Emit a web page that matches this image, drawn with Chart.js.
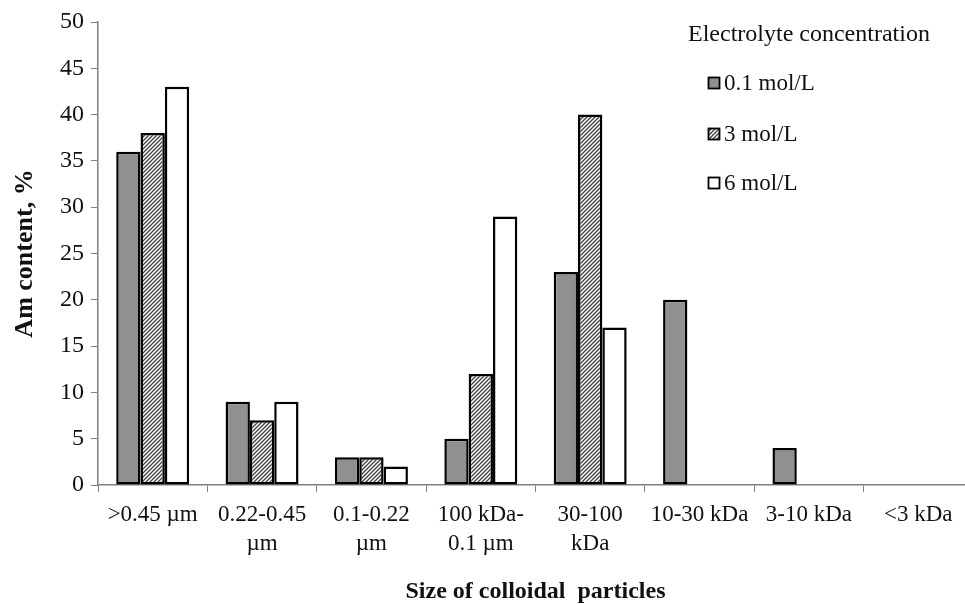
<!DOCTYPE html>
<html>
<head>
<meta charset="utf-8">
<script src="https://cdn.jsdelivr.net/npm/chart.js@4/dist/chart.umd.min.js"></script>
<style>
  html, body { margin: 0; padding: 0; background: #fff; overflow: hidden; }
  #wrap { width: 985px; height: 604px; }
</style>
</head>
<body>
<div id="wrap"><canvas id="c" width="985" height="604"></canvas></div>
<script>
// ---- data ----
const categories = [
  ">0.45 µm",
  ["0.22-0.45", "µm"],
  ["0.1-0.22", "µm"],
  ["100 kDa-", "0.1 µm"],
  ["30-100", "kDa"],
  "10-30 kDa",
  "3-10 kDa",
  "<3 kDa"
];
const seriesNames = ["0.1 mol/L", "3 mol/L", "6 mol/L"];
const conc01 = [36, 9, 3, 5, 23, 20, 4, null];
const conc3  = [38, 7, 3, 12, 40, null, null, null];
const conc6  = [43, 9, 2, 29, 17, null, null, null];
const yTicks = [0, 5, 10, 15, 20, 25, 30, 35, 40, 45, 50];
const legendTitle = "Electrolyte concentration";
const xTitle = "Size of colloidal  particles";
const yTitle = "Am content, %";

// hatch pattern
function makeHatch() {
  const s = 4;
  const pc = document.createElement('canvas');
  pc.width = s; pc.height = s;
  const g = pc.getContext('2d');
  g.fillStyle = '#ffffff';
  g.fillRect(0, 0, s, s);
  g.strokeStyle = '#404040';
  g.lineWidth = 1.3;
  g.beginPath();
  g.moveTo(-1, 1); g.lineTo(1, -1);
  g.moveTo(0, s); g.lineTo(s, 0);
  g.moveTo(s - 1, s + 1); g.lineTo(s + 1, s - 1);
  g.stroke();
  return document.getElementById('c').getContext('2d').createPattern(pc, 'repeat');
}
const hatch = makeHatch();

const SERIF = '"Liberation Serif", "Times New Roman", serif';
const fills = ['#909090', hatch, '#ffffff'];
const seriesData = [conc01, conc3, conc6];

const legendPlugin = {
  id: 'customLegend',
  afterDraw(chart) {
    const ctx = chart.ctx;
    ctx.save();
    ctx.fillStyle = '#111';
    ctx.textBaseline = 'middle';
    ctx.textAlign = 'left';
    ctx.font = '24px ' + SERIF;
    ctx.fillText(legendTitle, 688, 35);
    const ys = [83, 134, 183];
    ctx.font = '23px ' + SERIF;
    chart.data.datasets.forEach((ds, i) => {
      const y = ys[i];
      ctx.fillStyle = ds.backgroundColor;
      ctx.fillRect(708, y - 6, 12, 12);
      ctx.strokeStyle = '#000';
      ctx.lineWidth = 1.8;
      ctx.strokeRect(708.5, y - 5.5, 11, 11);
      ctx.fillStyle = '#111';
      ctx.fillText(ds.label, 724, y + 1);
    });
    ctx.restore();
  }
};

new Chart(document.getElementById('c'), {
  type: 'bar',
  data: {
    labels: categories,
    datasets: seriesNames.map((n, i) => ({
      label: n,
      data: seriesData[i],
      backgroundColor: fills[i],
      borderColor: '#000',
      borderWidth: 2.5,
      borderSkipped: false,
      categoryPercentage: 0.667,
      barPercentage: 1.0
    }))
  },
  options: {
    responsive: false,
    animation: false,
    layout: { padding: { top: 22, right: 12, left: 0, bottom: 0 } },
    plugins: { legend: { display: false }, tooltip: { enabled: false } },
    scales: {
      x: {
        offset: true,
        grid: { display: true, drawOnChartArea: false, drawTicks: true, tickLength: 7, color: '#808080', offset: true },
        border: { color: '#808080', width: 1.5 },
        ticks: {
          color: '#111', font: { family: SERIF, size: 23, lineHeight: 1.25 },
          padding: 9, maxRotation: 0, autoSkip: false
        },
        title: {
          display: true, text: xTitle, color: '#111',
          font: { family: SERIF, size: 24, weight: 'bold', lineHeight: 1 },
          padding: { top: 0, bottom: 0 }
        },
        afterFit(s) { s.height = 119; }
      },
      y: {
        min: 0, max: 50,
        afterBuildTicks(s) { s.ticks = yTicks.map(v => ({ value: v })); },
        grid: { display: true, drawOnChartArea: false, drawTicks: true, tickLength: 7, color: '#808080' },
        border: { color: '#808080', width: 1.5 },
        ticks: { color: '#111', font: { family: SERIF, size: 24 }, padding: 7 },
        title: {
          display: true, text: yTitle, color: '#111',
          font: { family: SERIF, size: 26, weight: 'bold', lineHeight: 1.2 },
          padding: { top: 10, bottom: 0 }
        },
        afterFit(s) { s.width = 98; }
      }
    }
  },
  plugins: [legendPlugin]
});
</script>
</body>
</html>
